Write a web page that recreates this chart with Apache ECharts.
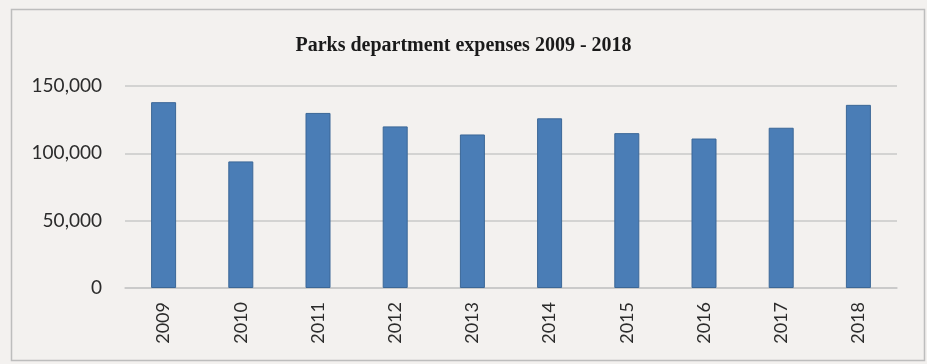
<!DOCTYPE html>
<html>
<head>
<meta charset="utf-8">
<script src="https://cdn.jsdelivr.net/npm/echarts@6/dist/echarts.min.js"></script>
<style>
  html, body { margin: 0; padding: 0; background: #f3f1ef; }
  #chart { width: 927px; height: 364px; }
</style>
</head>
<body>
<div id="chart"></div>
<script>
// Annual parks department expenses
const years = ['2009', '2010', '2011', '2012', '2013', '2014', '2015', '2016', '2017', '2018'];
const expenses = [138000, 94000, 130000, 120000, 114000, 126000, 115000, 111000, 119000, 136000];
const yTicks = { min: 0, max: 150000, step: 50000 };
const chartTitle = 'Parks department expenses 2009 - 2018';

const chart = echarts.init(document.getElementById('chart'), null, { renderer: 'canvas' });

chart.setOption({
  backgroundColor: '#f3f1ef',
  animation: false,
  title: {
    text: chartTitle,
    left: 'center',
    top: 31,
    textStyle: {
      fontFamily: 'Liberation Serif',
      fontWeight: 'bold',
      fontSize: 20,
      color: '#1a1a1a'
    }
  },
  graphic: [{
    type: 'rect',
    shape: { x: 11.5, y: 9.5, width: 913, height: 351 },
    style: { fill: 'none', stroke: '#bdbdbd', lineWidth: 1.5 },
    silent: true,
    z: 0
  }],
  grid: {
    left: 125,
    right: 30,
    top: 86,
    bottom: 364 - 288
  },
  xAxis: {
    type: 'category',
    data: years,
    axisLine: { show: true, lineStyle: { color: '#c8c8c8', width: 1.5 } },
    axisTick: { show: false },
    axisLabel: {
      rotate: 90,
      margin: 14,
      fontFamily: 'Lato',
      fontSize: 18,
      color: '#2b2b2b'
    }
  },
  yAxis: {
    type: 'value',
    min: yTicks.min,
    max: yTicks.max,
    interval: yTicks.step,
    axisLine: { show: false },
    axisTick: { show: false },
    splitLine: { lineStyle: { color: '#c8c8c8', width: 1.5 } },
    axisLabel: {
      margin: 23,
      fontFamily: 'Lato',
      fontSize: 19,
      color: '#2b2b2b',
      formatter: v => v.toLocaleString('en-US')
    }
  },
  series: [{
    type: 'bar',
    data: expenses,
    barWidth: 25,
    itemStyle: {
      color: '#4a7db6',
      borderColor: '#3b6797',
      borderWidth: 1
    }
  }]
});
</script>
</body>
</html>
